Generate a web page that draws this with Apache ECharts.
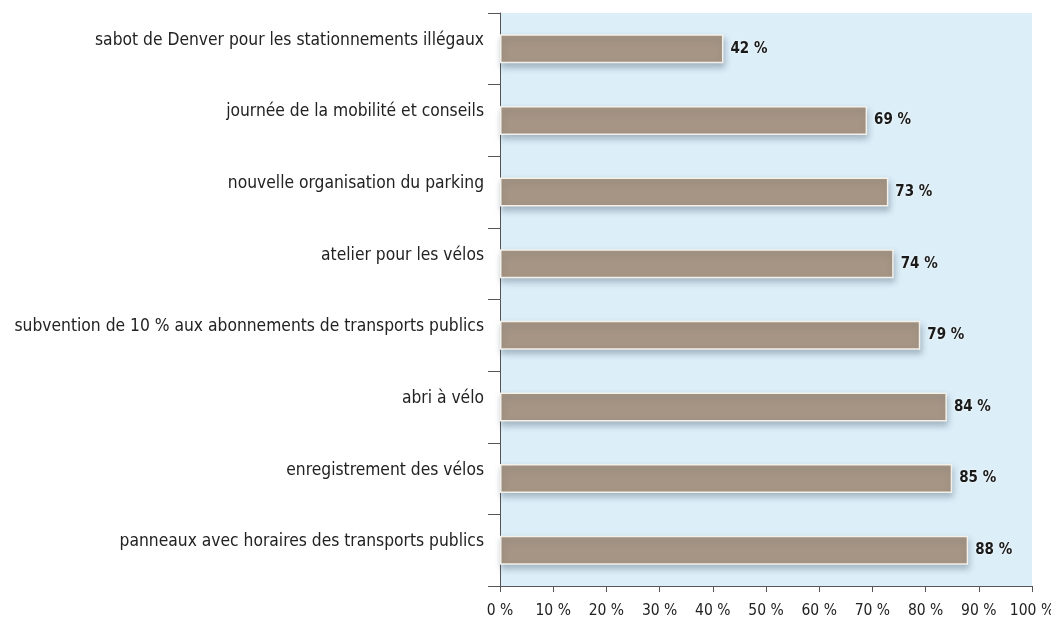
<!DOCTYPE html>
<html><head><meta charset="utf-8">
<script src="https://cdn.jsdelivr.net/npm/echarts@6/dist/echarts.min.js"></script>
<style>html,body{margin:0;padding:0;background:#fff}#c{width:1051px;height:618px}</style>
</head><body><div id="c"></div>
<script>
const categories = [
  "sabot de Denver pour les stationnements illégaux",
  "journée de la mobilité et conseils",
  "nouvelle organisation du parking",
  "atelier pour les vélos",
  "subvention de 10 % aux abonnements de transports publics",
  "abri à vélo",
  "enregistrement des vélos",
  "panneaux avec horaires des transports publics"
];
const values = [42, 69, 73, 74, 79, 84, 85, 88];
const FONT = '"Liberation Sans Narrow", "DejaVu Sans Condensed", "Liberation Sans", sans-serif';
const chart = echarts.init(document.getElementById('c'));
chart.setOption({
  animation: false,
  grid: {left: 500, right: 19, top: 13, bottom: 32, show: true, backgroundColor: '#DCEEF8', borderWidth: 0, outerBoundsMode: 'none', containLabel: false},
  xAxis: {
    type: 'value', min: 0, max: 100, interval: 10,
    axisLine: {show: true, lineStyle: {color: '#555', width: 1}},
    axisTick: {show: true, length: 6, lineStyle: {color: '#555'}},
    splitLine: {show: false},
    axisLabel: {formatter: '{value} %', color: '#222', fontSize: 15.5, fontFamily: FONT, margin: 17, hideOverlap: false}
  },
  yAxis: {
    type: 'category', data: categories, inverse: true,
    axisLine: {show: true, lineStyle: {color: '#555', width: 1}},
    axisTick: {show: true, length: 12, lineStyle: {color: '#555'}},
    axisLabel: {color: '#222', fontSize: 17.3, fontFamily: FONT, margin: 16, verticalAlign: 'bottom'}
  },
  series: [{
    type: 'bar', data: values, barWidth: 29,
    itemStyle: {color: '#A69584', borderColor: '#F4F1EA', borderWidth: 1.5,
      shadowColor: 'rgba(60,80,100,0.35)', shadowBlur: 6, shadowOffsetY: 4, shadowOffsetX: 1},
    label: {show: true, position: 'right', distance: 7, formatter: '{c} %',
      color: '#1a1a1a', fontSize: 15, fontWeight: 'bold', fontFamily: FONT,
      textShadowColor: 'rgba(255,255,255,0.9)', textShadowBlur: 3}
  }]
});
</script></body></html>
